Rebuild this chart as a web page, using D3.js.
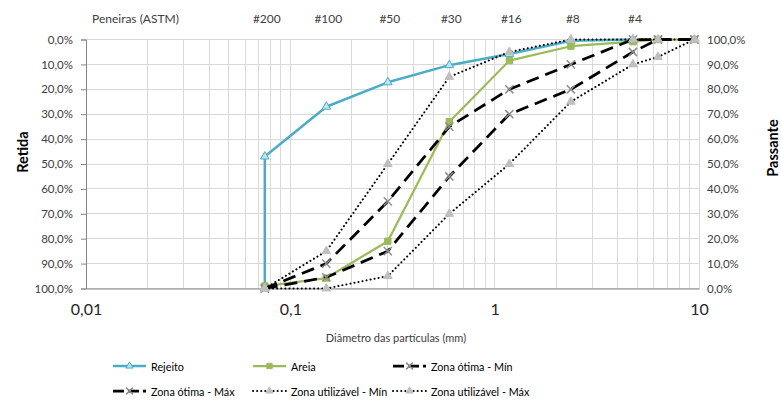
<!DOCTYPE html>
<html>
<head>
<meta charset="utf-8">
<script src="https://cdn.jsdelivr.net/npm/d3@7"></script>
<style>
  html, body { margin: 0; padding: 0; background: #fff; }
  svg { display: block; font-family: Lato, "Open Sans", sans-serif; }
</style>
</head>
<body>
<svg id="chart" width="781" height="400"></svg>
<script>
// Sieve openings (mm) used by every curve
const sizes = [0.075, 0.15, 0.3, 0.6, 1.18, 2.36, 4.75, 6.3, 9.5];

// Cumulative retained (%) per curve
const rejeitoSizes = [0.075, 0.075, 0.15, 0.3, 0.6, 1.18, 2.36, 4.75];
const rejeito      = [100, 47, 27, 17.2, 10.3, 5.8, 0.5, 0];
const areia        = [99, 95.8, 81, 33, 8.5, 2.7, 0.9, 0, 0];
const otimaMin     = [100, 95.5, 85, 55, 30, 20, 5, 0, 0];
const otimaMax     = [100, 90, 65, 35, 20, 10, 0, 0, 0];
const utilMin      = [100, 100, 95, 70, 50, 25, 10, 7, 0];
const utilMax      = [100, 85, 50, 15, 5, 0, 0, 0, 0];

// ASTM sieve labels on the top edge
const sieveLabels = ["#200", "#100", "#50", "#30", "#16", "#8", "#4"];
const sieveSizes  = [0.075, 0.15, 0.3, 0.6, 1.18, 2.36, 4.75];

const xTicks = [0.01, 0.1, 1, 10];
const yTicks = d3.range(0, 101, 10);

const svg = d3.select("#chart");
const L = 86, R = 699, T = 39.5, B = 288.5;

const x = d3.scaleLog().domain([0.01, 10]).range([L, R]);
const y = d3.scaleLinear().domain([0, 100]).range([T, B]);
const yRight = d3.scaleLinear().domain([100, 0]).range([T, B]);

const fmtPct = v => d3.format(".1f")(v).replace(".", ",") + "%";
const fmtX = v => String(v).replace(".", ",");

// Grid: every log minor step + 10% rows
const g = svg.append("g");
const minor = [];
for (let e = -2; e < 1; e++) for (let k = 1; k <= 9; k++) minor.push(k * Math.pow(10, e));
minor.push(10);
g.selectAll("line.vx").data(minor).join("line")
  .attr("x1", d => x(d)).attr("x2", d => x(d)).attr("y1", T).attr("y2", B)
  .attr("stroke", "#d9d9d9").attr("stroke-width", 1).attr("shape-rendering", "crispEdges");
g.selectAll("line.hy").data(yTicks).join("line")
  .attr("x1", L).attr("x2", R).attr("y1", d => y(d)).attr("y2", d => y(d))
  .attr("stroke", "#d9d9d9").attr("stroke-width", 1).attr("shape-rendering", "crispEdges");

// Left axis
const leftAxis = d3.axisLeft(y).tickValues(yTicks).tickFormat(fmtPct).tickSize(5).tickPadding(8);
const la = svg.append("g").attr("transform", `translate(${L},0)`).call(leftAxis);
la.select(".domain").attr("stroke", "#868686");
la.selectAll(".tick line").attr("stroke", "#868686");
la.selectAll("text").attr("font-size", 11.5).attr("fill", "#404040").attr("font-family", "Lato, sans-serif");

// Right axis
const rightAxis = d3.axisRight(yRight).tickValues(yTicks).tickFormat(fmtPct).tickSize(0).tickPadding(8);
const ra = svg.append("g").attr("transform", `translate(${R},0)`).call(rightAxis);
ra.select(".domain").attr("stroke", "#d9d9d9");
ra.selectAll("text").attr("font-size", 11.5).attr("fill", "#404040").attr("font-family", "Lato, sans-serif");

// Bottom axis
const bottomAxis = d3.axisBottom(x).tickValues(xTicks).tickFormat(fmtX).tickSize(0).tickPadding(15);
const ba = svg.append("g").attr("transform", `translate(0,${B})`).call(bottomAxis);
ba.select(".domain").attr("stroke", "#868686");
ba.selectAll("text").attr("font-size", 16).attr("fill", "#262626").attr("font-family", "Lato, sans-serif");

// Top sieve labels
svg.append("text").attr("x", 92).attr("y", 23).attr("font-size", 12).attr("fill", "#404040")
  .text("Peneiras (ASTM)");
svg.selectAll("text.sieve").data(sieveLabels).join("text")
  .attr("x", (d, i) => x(sieveSizes[i]) + 2).attr("y", 23)
  .attr("text-anchor", "middle").attr("font-size", 12).attr("fill", "#404040")
  .text(d => d);

// Axis titles
svg.append("text").attr("transform", "translate(28,152) rotate(-90)")
  .attr("text-anchor", "middle").attr("font-weight", "bold").attr("font-size", 14.5).attr("fill", "#000")
  .text("Retida");
svg.append("text").attr("transform", "translate(778,148) rotate(-90)")
  .attr("text-anchor", "middle").attr("font-weight", "bold").attr("font-size", 14.5).attr("fill", "#000")
  .text("Passante");
svg.append("text").attr("x", 396).attr("y", 342).attr("text-anchor", "middle")
  .attr("font-size", 11).attr("fill", "#404040").text("Diâmetro das partículas (mm)");

// Marker shapes
const tri = d3.symbol().type(d3.symbolTriangle).size(30);
const sq = d3.symbol().type(d3.symbolSquare).size(40);
const star = d3.symbol().type(d3.symbolX).size(40);

const series = [
  { name: "Rejeito", xs: rejeitoSizes, vals: rejeito, color: "#4bacc6", width: 2.5, dash: null,
    marker: "tri", mFill: "#bfe3ee", mStroke: "#4bacc6" },
  { name: "Areia", xs: sizes, vals: areia, color: "#9bbb59", width: 2.25, dash: null,
    marker: "sq", mFill: "#9bbb59", mStroke: "#9bbb59" },
  { name: "Zona ótima - Mín", xs: sizes, vals: otimaMin, color: "#000", width: 2.75, dash: "13,7",
    marker: "x", mFill: "none", mStroke: "#8c8c8c" },
  { name: "Zona ótima - Máx", xs: sizes, vals: otimaMax, color: "#000", width: 2.75, dash: "13,7",
    marker: "x", mFill: "none", mStroke: "#8c8c8c" },
  { name: "Zona utilizável - Mín", xs: sizes, vals: utilMin, color: "#000", width: 2, dash: "0.1,4",
    marker: "tri", mFill: "#bfbfbf", mStroke: "#bfbfbf" },
  { name: "Zona utilizável - Máx", xs: sizes, vals: utilMax, color: "#000", width: 2, dash: "0.1,4",
    marker: "tri", mFill: "#bfbfbf", mStroke: "#bfbfbf" }
];

const line = d3.line().x(d => x(d[0])).y(d => y(d[1]));

function drawMarker(sel, s, scale) {
  const gen = s.marker === "tri" ? tri : s.marker === "sq" ? sq : star;
  sel.attr("d", gen.size((s.marker === "sq" ? 40 : s.marker === "x" ? 45 : 32) * (scale || 1))())
    .attr("fill", s.mFill).attr("stroke", s.mStroke).attr("stroke-width", s.marker === "x" ? 1.5 : 1);
}

const plot = svg.append("g");
series.forEach(s => {
  const pts = s.xs.map((v, i) => [v, s.vals[i]]);
  plot.append("path").datum(pts).attr("d", line)
    .attr("fill", "none").attr("stroke", s.color).attr("stroke-width", s.width)
    .attr("stroke-dasharray", s.dash).attr("stroke-linecap", s.dash === "0.1,4" ? "round" : "butt")
    .attr("stroke-linejoin", "round");
  plot.append("g").selectAll("path").data(pts).join("path")
    .attr("transform", d => `translate(${x(d[0])},${y(d[1])})`)
    .each(function () { drawMarker(d3.select(this), s); });
});

// Legend
const legendPos = [[113, 366], [253, 366], [393, 366], [113, 391], [253, 391], [393, 391]];
const lg = svg.append("g");
series.forEach((s, i) => {
  const [lx, ly] = legendPos[i];
  const item = lg.append("g").attr("transform", `translate(${lx},${ly})`);
  item.append("line").attr("x1", 0).attr("x2", 33).attr("y1", 0).attr("y2", 0)
    .attr("stroke", s.color).attr("stroke-width", s.width)
    .attr("stroke-dasharray", s.dash === "13,7" ? "11,4" : s.dash)
    .attr("stroke-linecap", s.dash === "0.1,4" ? "round" : "butt");
  item.append("path").attr("transform", "translate(16.5,0)")
    .each(function () { drawMarker(d3.select(this), s, 0.7); });
  item.append("text").attr("x", 38).attr("y", 4.5).attr("font-size", 10.8).attr("fill", "#000")
    .text(s.name);
});
</script>
</body>
</html>
